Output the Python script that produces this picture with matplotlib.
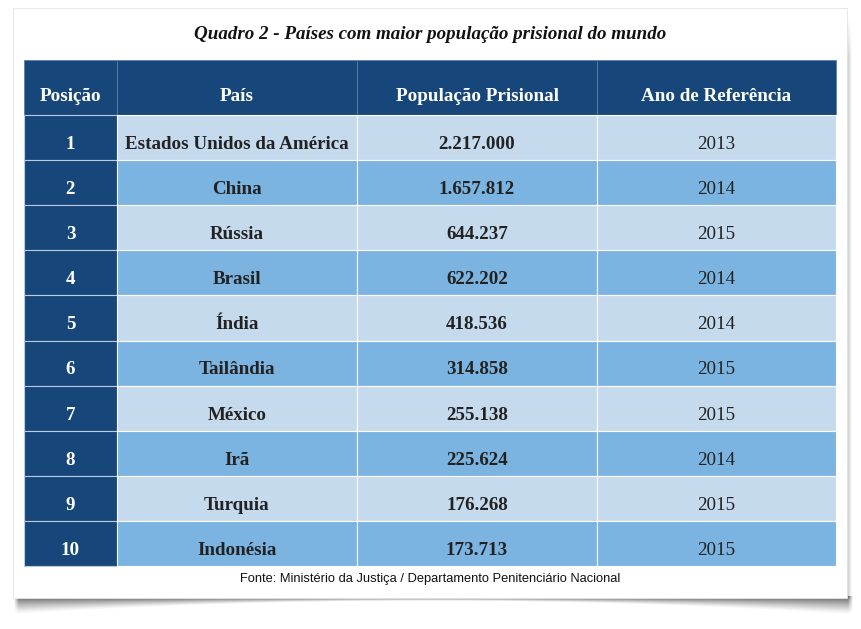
import numpy as np
import matplotlib.pyplot as plt
from matplotlib.patches import Rectangle

# data
colunas = ["Posição", "País", "População Prisional", "Ano de Referência"]
posicao = ["1", "2", "3", "4", "5", "6", "7", "8", "9", "10"]
paises = ["Estados Unidos da América", "China", "Rússia", "Brasil", "Índia",
          "Tailândia", "México", "Irã", "Turquia", "Indonésia"]
populacao = ["2.217.000", "1.657.812", "644.237", "622.202", "418.536",
             "314.858", "255.138", "225.624", "176.268", "173.713"]
anos = ["2013", "2014", "2015", "2014", "2014", "2015", "2015", "2014", "2015", "2015"]

titulo = "Quadro 2 - Países com maior população prisional do mundo"
fonte = "Fonte: Ministério da Justiça / Departamento Penitenciário Nacional"

dark = "#17477a"
light = "#c6daee"
mid = "#7bb4e0"
txt = "#222222"
serif = ["Liberation Serif", "DejaVu Serif"]

fig = plt.figure(figsize=(8.61, 6.29), dpi=100)
ax = fig.add_axes([0, 0, 1, 1])
ax.set_xlim(0, 861)
ax.set_ylim(629, 0)
ax.axis("off")

# curled-paper shadow under the card
card_l, card_r, card_t, card_b = 13, 847, 8, 598
xs = np.arange(5, 858) + 0.5
ys = np.arange(card_b - 2, 625) + 0.5
X, Y = np.meshgrid(xs, ys)
u = (X - 430) / 418
low = card_b + 3 + 14 * u ** 2
t = np.clip((low - Y) / (low - card_b), 0, 1)
a = 0.55 * t ** 1.3
a *= np.clip((X - 14) / 5, 0, 1) * np.clip((853 - X) / 5, 0, 1)
shadow = np.zeros(X.shape + (4,))
shadow[..., 3] = a
ax.imshow(shadow, extent=(5, 858, 625, card_b - 2), interpolation="bilinear", zorder=0)

# right edge shadow
ys2 = np.arange(card_t + 10, card_b) + 0.5
xs2 = np.arange(card_r, card_r + 5) + 0.5
X2, Y2 = np.meshgrid(xs2, ys2)
a2 = 0.25 * (1 - (X2 - card_r) / 5) * np.clip((Y2 - card_t - 10) / 40, 0, 1)
sh2 = np.zeros(X2.shape + (4,))
sh2[..., 3] = a2
ax.imshow(sh2, extent=(card_r, card_r + 5, card_b, card_t + 10), interpolation="bilinear", zorder=0)

ax.add_patch(Rectangle((card_l, card_t), card_r - card_l, card_b - card_t,
                       fc="white", ec="#e4e4e4", lw=0.6, zorder=1))
ax.set_xlim(0, 861)
ax.set_ylim(629, 0)

# table geometry
col_x = [24, 117, 357, 597, 836]
top = 60
head_h = 55
row_h = 45.1

ax.text(430, 39, titulo, ha="center", va="baseline", fontsize=13.7,
        fontweight="bold", fontstyle="italic", family=serif, color="#111111", zorder=3)

for j, name in enumerate(colunas):
    ax.add_patch(Rectangle((col_x[j], top), col_x[j + 1] - col_x[j], head_h,
                           fc=dark, ec="#5a7fa8", lw=0.6, zorder=2))
    ax.text((col_x[j] + col_x[j + 1]) / 2, top + 41, name, ha="center",
            va="baseline", fontsize=13.8, fontweight="bold", family=serif,
            color="white", zorder=3)

y0 = top + head_h
for i in range(len(paises)):
    y = y0 + i * row_h
    bg = light if i % 2 == 0 else mid
    vals = [posicao[i], paises[i], populacao[i], anos[i]]
    for j in range(4):
        fc = dark if j == 0 else bg
        ax.add_patch(Rectangle((col_x[j], y), col_x[j + 1] - col_x[j], row_h,
                               fc=fc, ec="white" if j else "#b9cbe0", lw=0.8, zorder=2))
        ax.text((col_x[j] + col_x[j + 1]) / 2, y + 34, vals[j],
                ha="center", va="baseline", fontsize=13.7, family=serif,
                fontweight="normal" if j == 3 else "bold",
                color="white" if j == 0 else txt, zorder=3)

ax.text(430, 582, fonte, ha="center", va="baseline", fontsize=9.3,
        family=["Liberation Sans", "DejaVu Sans"], color="#111111", zorder=3)

fig.savefig("out.png", dpi=100)
